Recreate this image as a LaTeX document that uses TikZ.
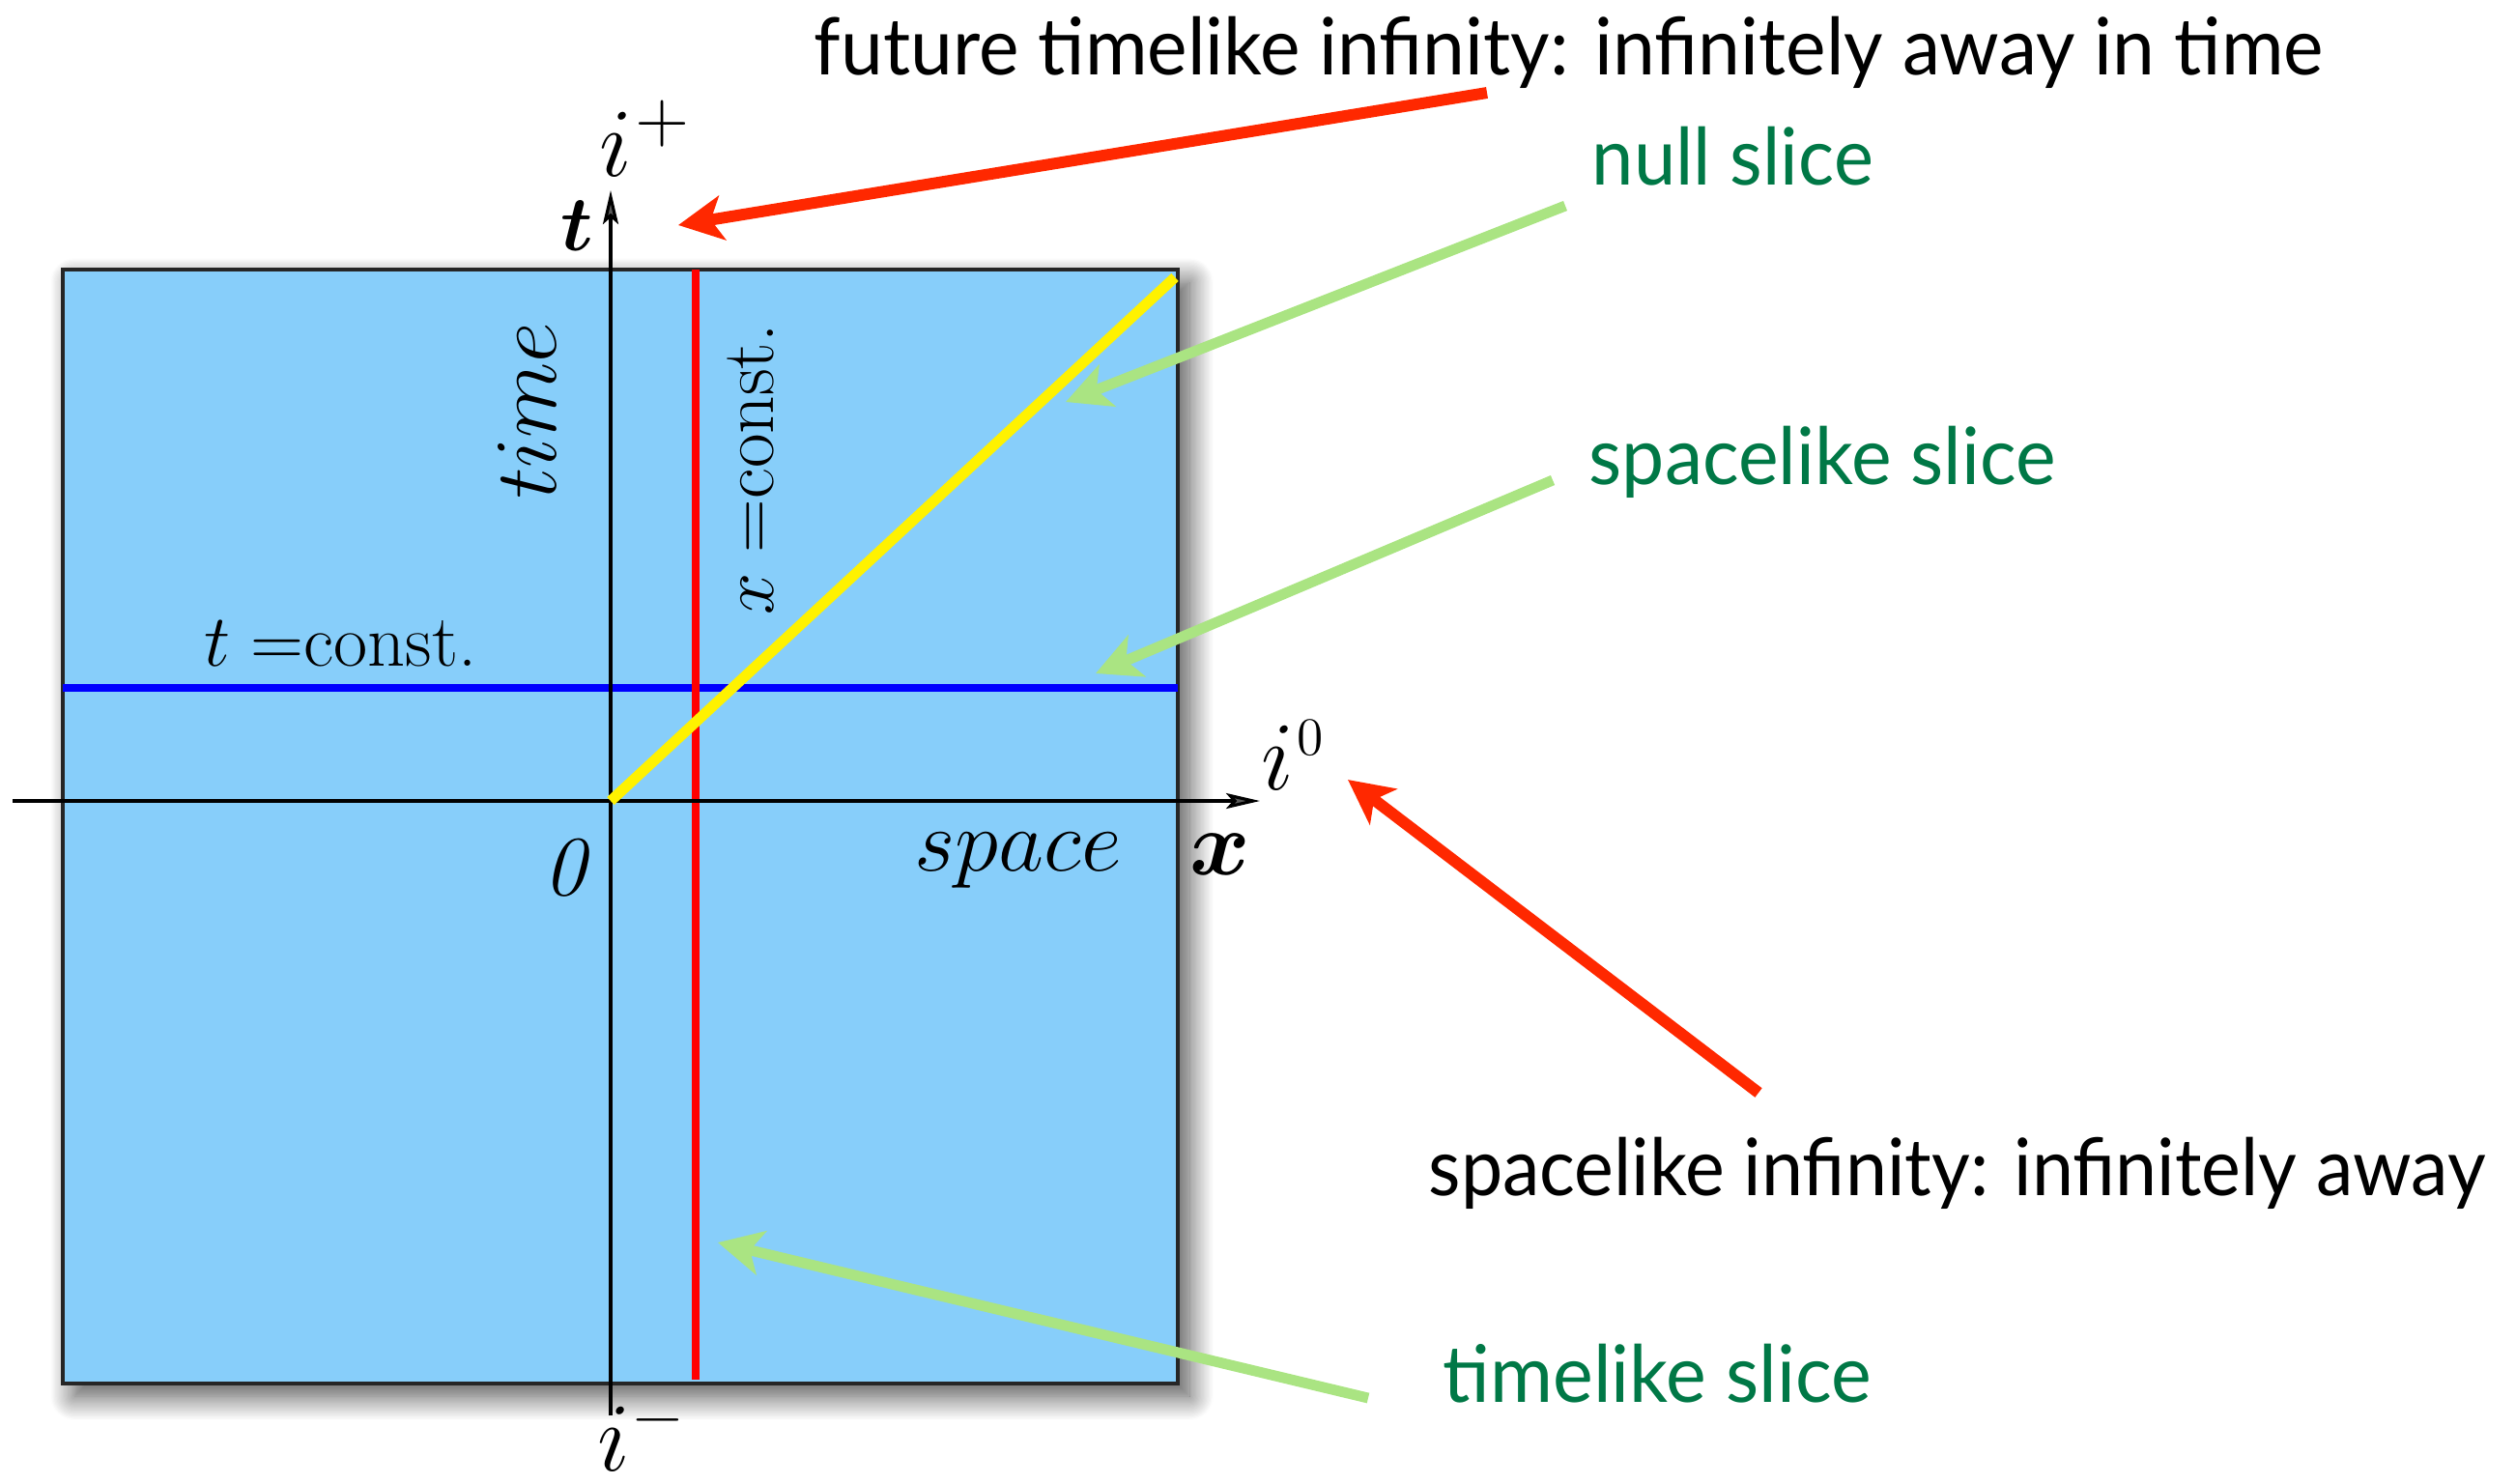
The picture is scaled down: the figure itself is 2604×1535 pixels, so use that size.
\RequirePackage{fix-cm}
\documentclass[tikz,border=0pt]{standalone}
\usepackage{fontspec}
\setsansfont{Lato}
\usepackage{graphicx}
\usepackage{bm}
\usetikzlibrary{arrows.meta,shadows.blur}
\definecolor{boxblue}{RGB}{135,206,250}
\definecolor{arrred}{RGB}{255,40,0}
\definecolor{lgreen}{RGB}{170,228,130}
\definecolor{dgreen}{RGB}{0,120,70}
\newcommand{\ilabel}[2]{\scalebox{1.435}{\fontsize{20}{24}\selectfont $i$\kern0.7pt\raisebox{7pt}{\fontsize{#1}{#1}\selectfont\rmfamily\upshape #2}}}
\begin{document}
\begin{tikzpicture}[x=0.01cm,y=-0.01cm,
  axis/.style={line width=0.9pt,-{Stealth[length=0.35cm,width=0.16cm,inset=0.07cm]}},
  redarr/.style={line width=3.4pt,draw=arrred,-{Stealth[length=0.46cm,width=0.46cm,inset=0.12cm]}},
  greenarr/.style={line width=3.1pt,draw=lgreen,-{Stealth[length=0.46cm,width=0.46cm,inset=0.12cm]}},
  note/.style={font=\sffamily\fontsize{23.3}{28}\selectfont,anchor=base west,inner sep=0pt},
  lbl/.style={inner sep=0pt}]
\path[use as bounding box] (0,0) rectangle (2604,1535);
% box
\coordinate (nw) at (65,279);
\coordinate (se) at (1219,1432);
\path[fill=boxblue,draw=black!85,line width=0.9pt,
  blur shadow={shadow xshift=0.12cm,shadow yshift=-0.13cm,shadow blur radius=0.25cm,shadow blur steps=20,shadow opacity=70}]
  (nw) rectangle (se);
% slices
\coordinate (bl) at (65,712);
\coordinate (br) at (1219,712);
\draw[blue,line width=2.1pt] (bl) -- (br);
\coordinate (rt) at (720,279);
\coordinate (rb) at (720,1428);
\draw[red,line width=2.1pt] (rt) -- (rb);
% axes
\coordinate (o) at (632,829);
\coordinate (xl) at (13,829);
\coordinate (xr) at (1304,829);
\coordinate (tb) at (632,1465);
\coordinate (tt) at (632,197);
\draw[axis] (xl) -- (xr);
\draw[axis] (tb) -- (tt);
\coordinate (yt) at (1216,287);
\draw[yellow,line width=3.1pt] (o) -- (yt);
% math labels
\node[lbl,anchor=base west] (ip) at (620,182) {\ilabel{14.6}{+}};
\node[lbl,anchor=base west] (i0) at (1305,817) {\ilabel{11}{0}};
\node[lbl,anchor=base west] (im) at (618,1522) {\ilabel{13.2}{−}};
\node[lbl,anchor=base west] (tl) at (580,259) {\fontsize{23}{28}\selectfont $\bm{t}$};
\node[lbl,anchor=base west] (xlab) at (1231,905) {\fontsize{27}{32}\selectfont $\bm{x}$};
\node[lbl,anchor=base west] (zero) at (562,926) {\fontsize{25}{30}\selectfont\textit{0}};
\node[lbl,anchor=base west] (space) at (946,901) {\fontsize{26}{31}\selectfont $space$};
\node[lbl,anchor=base,rotate=90] (time) at (575,425) {\fontsize{26}{31}\selectfont $time$};
\node[lbl,anchor=base west] (tc) at (211,689) {\fontsize{21.7}{26}\selectfont $t =$const.};
\node[lbl,anchor=base,rotate=90] (xc) at (800,486) {\fontsize{22}{26}\selectfont $x =$const.};
% notes
\node[note] (fti) at (842,77) {\resizebox{15.61cm}{\height}{future timelike infinity: infinitely away in time}};
\node[note,text=dgreen] (nul) at (1647,191) {\resizebox{2.91cm}{\height}{null slice}};
\node[note,text=dgreen] (spl) at (1644,501) {\resizebox{4.83cm}{\height}{spacelike slice}};
\node[note] (spi) at (1478,1237) {\resizebox{10.93cm}{\height}{spacelike infinity: infinitely away}};
\node[note,text=dgreen] (tls) at (1493,1451) {\resizebox{4.43cm}{\height}{timelike slice}};
% arrows
\coordinate (a1s) at (1539,96);
\coordinate (a1e) at (702,233);
\draw[redarr] (a1s) -- (a1e);
\coordinate (a2s) at (1820,1131);
\coordinate (a2e) at (1395,807);
\draw[redarr] (a2s) -- (a2e);
\coordinate (g1s) at (1620,213);
\coordinate (g1e) at (1103,416);
\draw[greenarr] (g1s) -- (g1e);
\coordinate (g2s) at (1607,497);
\coordinate (g2e) at (1134,697);
\draw[greenarr] (g2s) -- (g2e);
\coordinate (g3s) at (1416,1447);
\coordinate (g3e) at (743,1286);
\draw[greenarr] (g3s) -- (g3e);
\end{tikzpicture}
\end{document}
